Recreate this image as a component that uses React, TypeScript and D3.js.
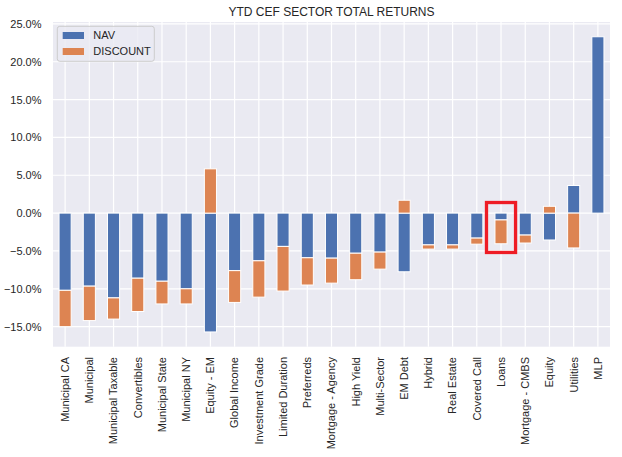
import React from "react";
import * as d3 from "d3";

const categories = [
  "Municipal CA", "Municipal", "Municipal Taxable", "Convertibles", "Municipal State",
  "Municipal NY", "Equity - EM", "Global Income", "Investment Grade", "Limited Duration",
  "Preferreds", "Mortgage - Agency", "High Yield", "Multi-Sector", "EM Debt", "Hybrid",
  "Real Estate", "Covered Call", "Loans", "Mortgage - CMBS", "Equity", "Utilities", "MLP",
];
const navValues = [
  -10.2, -9.65, -11.2, -8.6, -9.0, -10.0, -15.7, -7.6, -6.3, -4.4, -5.9, -5.95, -5.3,
  -5.15, -7.75, -4.2, -4.2, -3.3, -0.9, -2.9, -3.55, 3.65, 23.3,
];
const discountValues = [
  -4.8, -4.55, -2.8, -4.4, -3.0, -2.0, 5.85, -4.2, -4.8, -5.9, -3.6, -3.3, -3.5,
  -2.25, 1.7, -0.55, -0.55, -0.8, -3.15, -1.05, 0.9, -4.6, 0.0,
];
const seriesNames = ["NAV", "DISCOUNT"];
const yTicks = [-15, -10, -5, 0, 5, 10, 15, 20, 25];
const title = "YTD CEF SECTOR TOTAL RETURNS";
// highlight box around "Loans" (data units)
const highlightCategory = "Loans";
const highlightTop = 1.4;
const highlightBottom = -5.2;
const highlightHalfWidth = 0.6;

const W = 622;
const H = 457;
const colors = ["#4c72b0", "#dd8452"];
const textColor = "#262626";
const font = "'Liberation Sans', Arial, sans-serif";

export default function App() {
  const left = 53, right = 610, top = 22, bottom = 346.7;
  const x = d3.scaleBand<string>().domain(categories).range([left, right]).paddingInner(0.5).paddingOuter(0.25);
  const step = x.step();
  const y = d3.scaleLinear().domain([-17.65, 25.25]).range([bottom, top]);
  const cx = (c: string) => (x(c) as number) + x.bandwidth() / 2;

  // pandas-style stacking: positives on positives, negatives on negatives
  const bars: { key: string; cat: string; s: number; y0: number; y1: number }[] = [];
  categories.forEach((c, i) => {
    let pos = 0, neg = 0;
    [navValues[i], discountValues[i]].forEach((v, s) => {
      if (v === 0) return;
      if (v >= 0) {
        bars.push({ key: `${c}-${s}`, cat: c, s, y0: pos, y1: pos + v });
        pos += v;
      } else {
        bars.push({ key: `${c}-${s}`, cat: c, s, y0: neg, y1: neg + v });
        neg += v;
      }
    });
  });

  const hx = cx(highlightCategory);

  return (
    <svg width={W} height={H} style={{ position: "absolute", left: 0, top: 0 }} fontFamily={font}>
      <rect x={0} y={0} width={W} height={H} fill="#ffffff" />
      <rect x={left} y={top} width={right - left} height={bottom - top} fill="#eaeaf2" />
      {yTicks.map((t) => (
        <line key={`gy${t}`} x1={left} x2={right} y1={y(t)} y2={y(t)} stroke="#ffffff" strokeWidth={1.2} />
      ))}
      {categories.map((c) => (
        <line key={`gx${c}`} x1={cx(c)} x2={cx(c)} y1={top} y2={bottom} stroke="#ffffff" strokeWidth={1.2} />
      ))}
      {bars.map((b) => (
        <rect
          key={b.key}
          x={x(b.cat) as number}
          width={x.bandwidth()}
          y={Math.min(y(b.y0), y(b.y1))}
          height={Math.abs(y(b.y0) - y(b.y1))}
          fill={colors[b.s]}
          stroke="#ffffff"
          strokeWidth={1}
        />
      ))}
      <rect
        x={hx - highlightHalfWidth * step}
        width={2 * highlightHalfWidth * step}
        y={y(highlightTop)}
        height={y(highlightBottom) - y(highlightTop)}
        fill="none"
        stroke="#ee1c25"
        strokeWidth={3.3}
      />
      {yTicks.map((t) => (
        <text key={`ty${t}`} x={41.5} y={y(t)} dy="0.36em" textAnchor="end" fontSize={11} fill={textColor}>
          {d3.format(".1f")(t) + "%"}
        </text>
      ))}
      {categories.map((c) => (
        <text
          key={`tx${c}`}
          transform={`translate(${cx(c)},357) rotate(-90)`}
          dy="0.35em"
          textAnchor="end"
          fontSize={11}
          fill={textColor}
        >
          {c}
        </text>
      ))}
      <text x={(left + right) / 2} y={16} textAnchor="middle" fontSize={12} fill={textColor}>
        {title}
      </text>
      <g>
        <rect x={57.3} y={26.3} width={97} height={35} rx={2.5} fill="#eaeaf2" fillOpacity={0.8} stroke="#cccccc" strokeWidth={1} />
        {seriesNames.map((n, i) => (
          <g key={n}>
            <rect x={62.7} y={32 + i * 16} width={21.3} height={7} fill={colors[i]} />
            <text x={93.3} y={35.5 + i * 16} dy="0.36em" fontSize={11} fill={textColor}>
              {n}
            </text>
          </g>
        ))}
      </g>
    </svg>
  );
}
